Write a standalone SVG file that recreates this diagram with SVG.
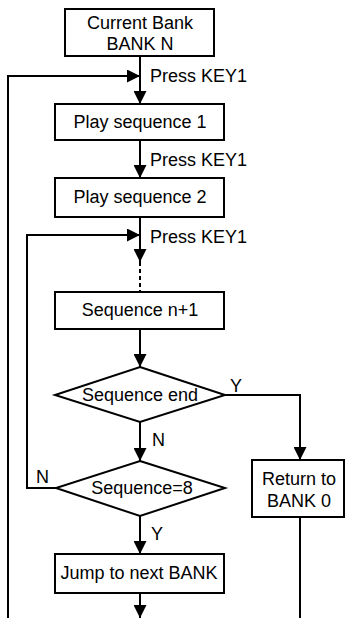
<svg xmlns="http://www.w3.org/2000/svg" width="345" height="618" viewBox="0 0 345 618">
<defs>
<marker id="ah" viewBox="0 0 13 13" refX="13" refY="6.5" markerWidth="13" markerHeight="13" markerUnits="userSpaceOnUse" orient="auto">
<path d="M0,0 L13,6.5 L0,13 Z" fill="#000"/>
</marker>
<style>
.box{fill:#fff;stroke:#000;stroke-width:2}
.t{font-family:"Liberation Sans",Arial,sans-serif;font-size:18px;fill:#000}
.c{text-anchor:middle}
.ln{fill:none;stroke:#000;stroke-width:2}
.dash{stroke-dasharray:4,3}
</style>
</defs>
<rect width="345" height="618" fill="#fff"/>
<g id="connectors">
<path class="ln" d="M140,56 V104" marker-end="url(#ah)"/>
<path class="ln" d="M8,618 V76 H140" marker-end="url(#ah)"/>
<path class="ln" d="M140,140 V178" marker-end="url(#ah)"/>
<path class="ln" d="M140,217 V262" marker-end="url(#ah)"/>
<path class="ln dash" d="M140,262 V292"/>
<path class="ln" d="M56,488 H27 V235 H140" marker-end="url(#ah)"/>
<path class="ln" d="M140,329 V367" marker-end="url(#ah)"/>
<path class="ln" d="M225,395 H300 V460" marker-end="url(#ah)"/>
<path class="ln" d="M140,422 V461" marker-end="url(#ah)"/>
<path class="ln" d="M140,516 V554" marker-end="url(#ah)"/>
<path class="ln" d="M140,593 V618" marker-end="url(#ah)"/>
<path class="ln" d="M300,517 V618"/>
<text class="t" x="150" y="82">Press KEY1</text>
<text class="t" x="150" y="166">Press KEY1</text>
<text class="t" x="150" y="243">Press KEY1</text>
<text class="t" x="230" y="392">Y</text>
<text class="t" x="152" y="446">N</text>
<text class="t" x="36" y="483">N</text>
<text class="t" x="151" y="540">Y</text>
</g>
<g id="current-bank">
<rect class="box" x="65" y="9" width="149" height="47"/>
<text class="t c" x="140" y="29">Current Bank</text>
<text class="t c" x="140" y="50">BANK N</text>
</g>
<g id="play-seq-1">
<rect class="box" x="55" y="104" width="169" height="36"/>
<text class="t c" x="140" y="128">Play sequence 1</text>
</g>
<g id="play-seq-2">
<rect class="box" x="55" y="178" width="169" height="39"/>
<text class="t c" x="140" y="203">Play sequence 2</text>
</g>
<g id="seq-n1">
<rect class="box" x="55" y="292" width="169" height="37"/>
<text class="t c" x="140" y="316">Sequence n+1</text>
</g>
<g id="seq-end">
<polygon class="box" points="140,367 225,395 140,422 55,395"/>
<text class="t c" x="140" y="401">Sequence end</text>
</g>
<g id="seq-8">
<polygon class="box" points="140,461 225,488 140,516 56,488"/>
<text class="t c" x="142" y="494">Sequence=8</text>
</g>
<g id="return-bank0">
<rect class="box" x="252" y="460" width="92" height="57"/>
<text class="t c" x="299" y="485">Return to</text>
<text class="t c" x="299" y="507">BANK 0</text>
</g>
<g id="jump-next">
<rect class="box" x="55" y="554" width="169" height="39"/>
<text class="t c" x="139" y="579">Jump to next BANK</text>
</g>
</svg>
